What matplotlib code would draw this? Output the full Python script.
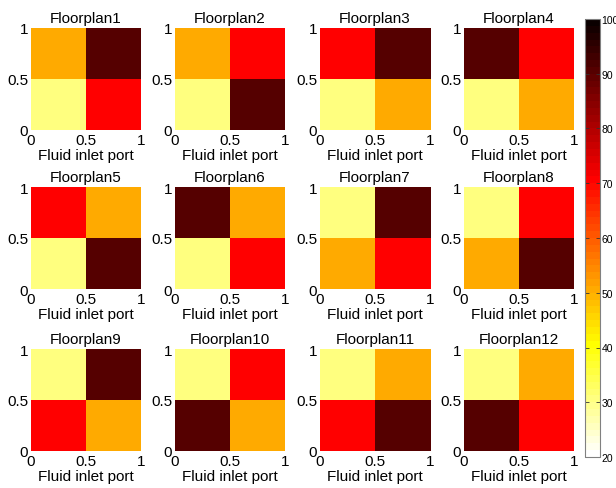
import numpy as np
import matplotlib.pyplot as plt
from matplotlib.colors import ListedColormap

plt.rcParams['font.family'] = ['Liberation Sans', 'DejaVu Sans']

# 2x2 cell values per floorplan, rows listed top to bottom
titles = ['Floorplan%d' % (i + 1) for i in range(12)]
floorplans = [
    [[50, 90], [30, 70]],
    [[50, 70], [30, 90]],
    [[70, 90], [30, 50]],
    [[90, 70], [30, 50]],
    [[70, 50], [30, 90]],
    [[90, 50], [30, 70]],
    [[30, 90], [50, 70]],
    [[30, 70], [50, 90]],
    [[30, 90], [70, 50]],
    [[30, 70], [90, 50]],
    [[30, 50], [70, 90]],
    [[30, 50], [90, 70]],
]
vmin, vmax = 20, 100
cbar_ticks = [20, 30, 40, 50, 60, 70, 80, 90, 100]
axis_ticks = [0, 0.5, 1]
axis_ticklabels = ['0', '0.5', '1']


def matlab_hot(m=64):
    n = int(3 / 8 * m)
    r = np.concatenate([np.arange(1, n + 1) / n, np.ones(m - n)])
    g = np.concatenate([np.zeros(n), np.arange(1, n + 1) / n, np.ones(m - 2 * n)])
    b = np.concatenate([np.zeros(2 * n), np.arange(1, m - 2 * n + 1) / (m - 2 * n)])
    return np.column_stack([r, g, b])


cmap = ListedColormap(matlab_hot()[::-1])

W, H = 616, 489
fig = plt.figure(figsize=(W / 100, H / 100), dpi=100)

col_left = [31, 175, 320, 464]
row_top = [29, 188, 350]
aw, ah = 110, 102

for k, vals in enumerate(floorplans):
    r, c = divmod(k, 4)
    x0 = col_left[c]
    y0 = row_top[r]
    ax = fig.add_axes([x0 / W, 1 - (y0 + ah) / H, aw / W, ah / H])
    im = ax.imshow(np.array(vals), cmap=cmap, vmin=vmin, vmax=vmax,
                   extent=(0, 1, 0, 1), origin='upper', aspect='auto',
                   interpolation='nearest')
    ax.set_xticks(axis_ticks)
    ax.set_yticks(axis_ticks)
    ax.set_xticklabels(axis_ticklabels, fontsize=11)
    ax.set_yticklabels(axis_ticklabels, fontsize=11)
    ax.tick_params(length=0, pad=2)
    for s in ax.spines.values():
        s.set_visible(False)
    ax.set_title(titles[k], fontsize=11, pad=4)
    ax.set_xlabel('Fluid inlet port', fontsize=11, labelpad=1)

cax = fig.add_axes([585 / W, 1 - 458 / H, 15 / W, 438 / H])
cb = fig.colorbar(im, cax=cax, ticks=cbar_ticks)
cb.outline.set_edgecolor('#808080')
cb.ax.tick_params(labelsize=7.5, direction='in', length=3, width=0.6,
                  color='#333333', left=True, right=True, pad=1)

fig.savefig('out.png', dpi=100)
